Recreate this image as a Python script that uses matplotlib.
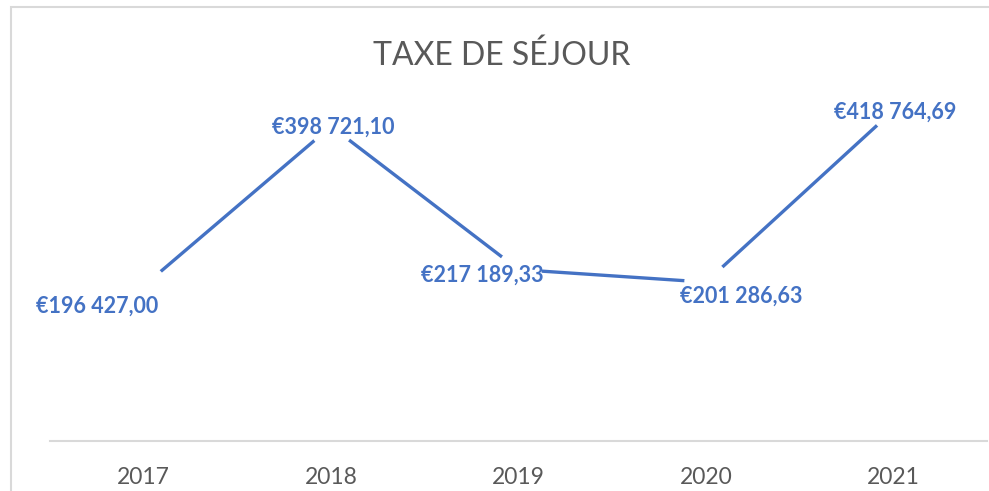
import matplotlib
matplotlib.use('Agg')
import matplotlib.pyplot as plt
from matplotlib.patches import Rectangle

# ── Data ─────────────────────────────────────────────────────────────────────
years = ['2017', '2018', '2019', '2020', '2021']
taxe = [196427.00, 398721.10, 217189.33, 201286.63, 418764.69]

# label offsets from each point, in pixels (dx, dy)
label_offsets = [(-47, -20), (2, -1), (-36, -6), (35, -14), (2, -2)]

BLUE = '#4472C4'
GREY_TXT = '#595959'
GREY_LINE = '#D9D9D9'

plt.rcParams['font.family'] = ['Lato', 'DejaVu Sans']

W, H = 989, 491
fig = plt.figure(figsize=(W / 100, H / 100), dpi=100)
fig.patch.set_facecolor('white')

# chart area border (cropped on right / bottom)
fig.patches.append(Rectangle((11 / W, -0.1), 1.2, 1 - 7 / H + 0.1,
                             transform=fig.transFigure, fill=False,
                             edgecolor=GREY_LINE, linewidth=1.5))

ymax = 450000
px_per_unit = 1 / 1267.0
ax_left, ax_right, ax_bottom = 50, 987, 441
ax_h = ymax * px_per_unit
ax = fig.add_axes([ax_left / W, 1 - ax_bottom / H,
                   (ax_right - ax_left) / W, ax_h / H])

x = list(range(len(years)))
ax.plot(x, taxe, color=BLUE, linewidth=2.4, solid_capstyle='butt',
        marker='o', markersize=32, markerfacecolor='white',
        markeredgewidth=0, zorder=2)

for xi, v, (dx, dy) in zip(x, taxe, label_offsets):
    txt = '€' + f'{v:,.2f}'.replace(',', ' ').replace('.', ',')
    ax.annotate(txt, (xi, v), xytext=(dx, dy), textcoords='offset pixels',
                ha='center', va='center', fontsize=15.5, fontweight='bold',
                color=BLUE, zorder=3)

ax.set_xlim(-0.5, len(years) - 0.5)
ax.set_ylim(0, ymax)
ax.set_xticks(x)
ax.set_xticklabels(years, fontsize=16.5, color=GREY_TXT)
ax.tick_params(axis='x', length=0, pad=19)
ax.set_yticks([])
for side in ['left', 'right', 'top']:
    ax.spines[side].set_visible(False)
ax.spines['bottom'].set_color(GREY_LINE)
ax.spines['bottom'].set_linewidth(1.5)
ax.set_facecolor('none')

fig.text(502 / W, 1 - 65 / H, 'TAXE DE SÉJOUR', ha='center', va='baseline',
         fontsize=23, fontweight='normal', color=GREY_TXT)

fig.savefig('out.png', dpi=100, facecolor='white')
